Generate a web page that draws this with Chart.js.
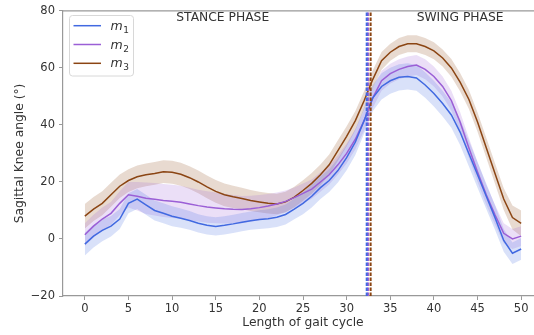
<!DOCTYPE html>
<html>
<head>
<meta charset="utf-8">
<script src="https://cdn.jsdelivr.net/npm/chart.js@4/dist/chart.umd.min.js"></script>
<style>
  html, body { margin: 0; padding: 0; background: #fff; overflow: hidden; width: 534px; height: 335px; }
  canvas { display: block; }
</style>
</head>
<body>
<canvas id="rodilla" width="545" height="335"></canvas>
<script>
// % del ciclo de marcha
const gaitPct = [0,1,2,3,4,5,6,7,8,9,10,11,12,13,14,15,16,17,18,19,20,21,22,23,24,25,
  26,27,28,29,30,31,32,33,34,35,36,37,38,39,40,41,42,43,44,45,46,47,48,49,50];

// medias (grados)
const m1 = [-1.8,1,3,4.5,7,12.5,14,12,10,9,8,7.3,6.5,5.5,4.8,4.4,4.8,5.3,5.9,6.4,6.8,7.1,7.6,8.6,10.5,12.5,
  15,18,20.5,24,28.5,34,41.5,49.5,53.5,55.5,56.7,57,56.5,54,51,47.5,43.5,37.5,30,22.5,15,7.5,-0.5,-5,-3.5];
const m2 = [1.5,4.5,7,9,12.5,15.5,15,14.3,13.9,13.5,13.2,12.9,12.3,11.7,11.2,10.9,10.6,10.4,10.3,10.6,11,11.6,12.3,13.2,14.5,16,
  17.5,20,22.5,26,30,35,41.5,49.5,55.5,58,59.5,60.5,61,59.5,57,53.5,48.5,41,32,23.5,15.5,8.5,2,0,1];
const m3 = [8,10.5,12.5,15.5,18.5,20.5,21.8,22.5,23,23.6,23.4,22.7,21.5,20,18.3,16.7,15.5,14.8,14.2,13.5,13,12.5,12.3,13,14.7,17,
  19.5,22.5,26,31,36,41.5,48.5,56,62.5,65.5,67.5,68.5,68.5,67.5,66,63.5,60,55,49,41,32,23,14,7.5,5.5];

// desviaciones típicas (banda sombreada)
const m1Sd = [4,4,3.8,3.6,3.5,3.5,3.5,3.5,3.5,3.5,3.5,3.4,3.3,3.2,3.2,3.2,3.2,3.2,3.2,3.2,3.3,3.3,3.4,3.5,3.6,3.8,
  4,4,4,4.2,4.4,4.5,4.6,4.6,4.6,4.6,4.6,4.6,4.5,4.5,4.5,4.5,4.5,4.5,4.5,4.5,4.5,4.3,4,3.8,3.8];
const m2Sd = [4,4,4,4,4.2,4.5,5,5.5,5.7,5.8,5.8,5.8,5.7,5.6,5.5,5.4,5.2,5,4.8,4.6,4.4,4.2,4,3.8,3.6,3.5,
  3.4,3.4,3.4,3.4,3.5,3.5,3.5,3.5,3.5,3.5,3.5,3.5,3.5,3.5,3.5,3.5,3.5,3.5,3.5,3.5,3.5,3.5,3.5,3.5,3.5];
const m3Sd = [4.3,4.2,4.2,4.2,4.1,4,4,4,4,4,4,4,4,4,4,4,4,3.9,3.8,3.7,3.6,3.6,3.6,3.6,3.6,3.6,
  3.6,3.6,3.6,3.6,3.5,3.4,3.3,3.2,3.1,3,3,3,3,3,3,3,3.1,3.2,3.3,3.4,3.5,3.6,3.8,4.2,4.5];

// despegue del pie (línea discontinua) por modelo
const toeOff = [32.3, 32.45, 32.75];

const xTicks = [0,5,10,15,20,25,30,35,40,45,50];
const yTicks = [-20,0,20,40,60,80];
const nombres = ['m₁', 'm₂', 'm₃'];
const colores = ['#4169e1', '#9b5fd6', '#8b4513'];
const rellenos = ['rgba(65,105,225,0.2)', 'rgba(155,95,214,0.2)', 'rgba(139,69,19,0.2)'];

const medias = [m1, m2, m3];
const sds = [m1Sd, m2Sd, m3Sd];
const pts = arr => gaitPct.map((x, i) => ({ x, y: arr[i] }));

const datasets = [];
medias.forEach((m, k) => {
  datasets.push({
    data: pts(m.map((v, i) => v + sds[k][i])),
    borderWidth: 0, pointRadius: 0, tension: 0,
    backgroundColor: rellenos[k], fill: '+1', order: 3
  });
  datasets.push({
    data: pts(m.map((v, i) => v - sds[k][i])),
    borderWidth: 0, pointRadius: 0, tension: 0, fill: false, order: 3
  });
});
medias.forEach((m, k) => {
  datasets.push({
    label: nombres[k], data: pts(m),
    borderColor: colores[k], borderWidth: 1.5, pointRadius: 0, tension: 0, fill: false, order: 2
  });
});
toeOff.forEach((x, k) => {
  datasets.push({
    data: [{ x, y: yTicks[0] }, { x, y: yTicks[yTicks.length - 1] }],
    borderColor: colores[k], borderWidth: 2, borderDash: [3.5, 1.5],
    pointRadius: 0, fill: false, order: 1
  });
});

const GRIS = '#999';
const TEXTO = '#333';

// marco superior, textos de fase, títulos y leyenda
const extras = {
  id: 'extras',
  afterDraw(chart) {
    const { ctx, chartArea: a, scales } = chart;
    ctx.save();
    ctx.strokeStyle = GRIS;
    ctx.lineWidth = 1.2;
    ctx.beginPath();
    ctx.moveTo(a.left, a.top); ctx.lineTo(a.right, a.top);
    ctx.stroke();

    ctx.fillStyle = TEXTO;
    ctx.font = '12.3px "DejaVu Sans"';
    ctx.textAlign = 'center';
    ctx.textBaseline = 'middle';
    ctx.fillText('STANCE PHASE', scales.x.getPixelForValue(15.8), 18);
    ctx.fillText('SWING PHASE', scales.x.getPixelForValue(43), 18);

    ctx.fillText('Length of gait cycle', (a.left + a.right) / 2, 323);
    ctx.save();
    ctx.translate(20, (a.top + a.bottom) / 2);
    ctx.rotate(-Math.PI / 2);
    ctx.fillText('Sagittal Knee angle (°)', 0, 0);
    ctx.restore();

    // leyenda
    const bx = 69.5, by = 15.5, bw = 64, bh = 60.5;
    ctx.beginPath();
    ctx.roundRect(bx, by, bw, bh, 3);
    ctx.fillStyle = 'rgba(255,255,255,0.8)';
    ctx.fill();
    ctx.strokeStyle = '#d8d8d8';
    ctx.lineWidth = 1;
    ctx.stroke();
    const filas = [25.7, 44.5, 63.3];
    colores.forEach((c, k) => {
      const y = filas[k];
      ctx.strokeStyle = c;
      ctx.lineWidth = 1.5;
      ctx.beginPath();
      ctx.moveTo(73.5, y); ctx.lineTo(101, y);
      ctx.stroke();
      ctx.fillStyle = TEXTO;
      ctx.textAlign = 'left';
      ctx.textBaseline = 'alphabetic';
      ctx.font = 'italic 12.5px "DejaVu Sans"';
      ctx.fillText('m', 110.5, y + 4);
      const w = ctx.measureText('m').width;
      ctx.font = '9px "DejaVu Sans"';
      ctx.fillText(String(k + 1), 110.5 + w + 0.5, y + 7);
    });
    ctx.restore();
  }
};

Chart.defaults.font.family = '"DejaVu Sans"';
Chart.defaults.color = TEXTO;

new Chart(document.getElementById('rodilla'), {
  type: 'line',
  data: { datasets },
  options: {
    responsive: false,
    animation: false,
    devicePixelRatio: 1,
    layout: { padding: { left: 0, top: 9, right: 2, bottom: 0 } },
    plugins: { legend: { display: false }, tooltip: { enabled: false } },
    scales: {
      x: {
        type: 'linear', min: -2.5, max: 52.5,
        afterFit: s => { s.height = 39; },
        afterBuildTicks: s => { s.ticks = xTicks.map(v => ({ value: v })); },
        ticks: { font: { size: 11.5 }, padding: 2, maxRotation: 0, autoSkip: false },
        grid: { drawOnChartArea: false, drawTicks: true, tickLength: 4, color: GRIS },
        border: { color: GRIS, width: 1.2 }
      },
      y: {
        type: 'linear', min: -20, max: 80,
        afterFit: s => { s.width = 63; },
        afterBuildTicks: s => { s.ticks = yTicks.map(v => ({ value: v })); },
        ticks: {
          font: { size: 11.5 }, padding: 4, autoSkip: false,
          callback: v => (v < 0 ? '−' + Math.abs(v) : String(v))
        },
        grid: { drawOnChartArea: false, drawTicks: true, tickLength: 4, color: GRIS },
        border: { color: GRIS, width: 1.2 }
      }
    }
  },
  plugins: [extras]
});
</script>
</body>
</html>
